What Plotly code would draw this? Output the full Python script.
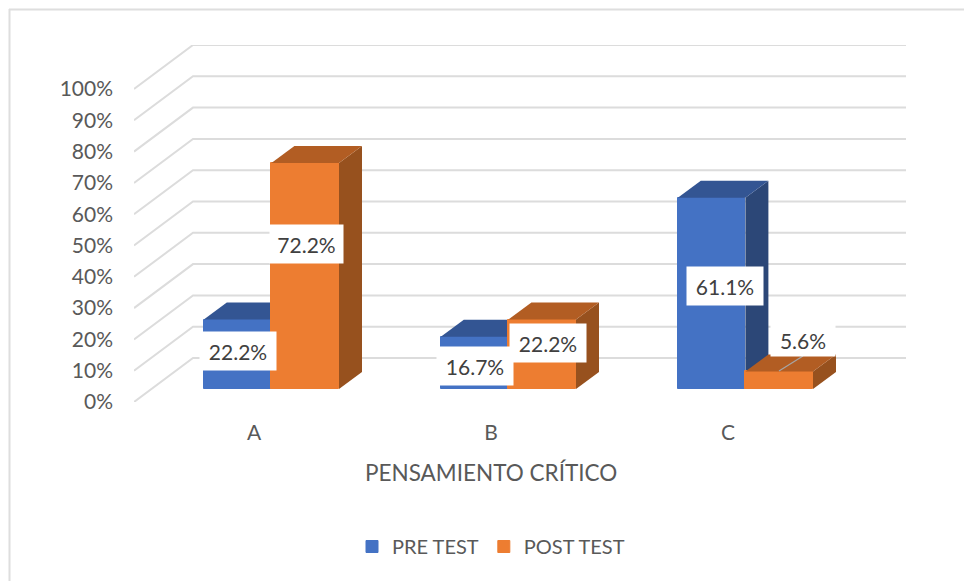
import plotly.graph_objects as go

CATEGORIES = ["A", "B", "C"]
PRE_TEST = [22.2, 16.7, 61.1]
POST_TEST = [72.2, 22.2, 5.6]
TICKS = [0, 10, 20, 30, 40, 50, 60, 70, 80, 90, 100]

COLOR_PRE = ["#4472C4", "#2C4777", "#335593"]  # front, side, top
COLOR_POST = ["#ED7D31", "#97511E", "#B25D23"]
COLOR_GRID = "#DCDCDC"
COLOR_TEXT = "#595959"
FONT = "Lato"

# plot area in pixels, floor corner is (PLOT_L, PLOT_B)
PLOT_L, PLOT_R, PLOT_T, PLOT_B = 134, 906, 45, 402
CAT_PX = 237.0   # pixels per category
FIRST_CAT_PX = 254
PCT_PX = 3.13    # pixels per percent

# 3d depth, in axis units
WALL_DX = 59 / CAT_PX
WALL_DY = 44 / PCT_PX
LIFT_DX = 17.4 / CAT_PX
LIFT_DY = 13 / PCT_PX
BAR_DX = 23 / CAT_PX
BAR_DY = 17 / PCT_PX
BAR_W = 67.6 / CAT_PX


def ax_x(px):
    return (px - FIRST_CAT_PX) / CAT_PX


def ax_y(px):
    return (PLOT_B - px) / PCT_PX


def paper_x(px):
    return (px - PLOT_L) / (PLOT_R - PLOT_L)


def paper_y(px):
    return (PLOT_B - px) / (PLOT_B - PLOT_T)


fig = go.Figure()

# walls
for t in TICKS:
    fig.add_trace(go.Scatter(x=[ax_x(PLOT_L), ax_x(PLOT_L) + WALL_DX, ax_x(PLOT_R)],
                             y=[t, t + WALL_DY, t + WALL_DY],
                             mode="lines", line=dict(color=COLOR_GRID, width=2),
                             showlegend=False, hoverinfo="skip", xaxis="x", yaxis="y"))


def add_series(name, values, offset, colors, xa, ya):
    left = [i + LIFT_DX + offset for i in range(len(values))]
    for i, v in enumerate(values):
        xl = left[i]
        xr = xl + BAR_W
        low = LIFT_DY
        top = LIFT_DY + v
        side_x = [xr, xr + BAR_DX, xr + BAR_DX, xr, xr]
        side_y = [low, low + BAR_DY, top + BAR_DY, top, low]
        top_x = [xl, xl + BAR_DX, xr + BAR_DX, xr, xl]
        top_y = [top, top + BAR_DY, top + BAR_DY, top, top]
        for px, py, c in [(side_x, side_y, colors[1]), (top_x, top_y, colors[2])]:
            fig.add_trace(go.Scatter(x=px, y=py, mode="lines", fill="toself", fillcolor=c,
                                     line=dict(width=0), showlegend=False, hoverinfo="skip",
                                     xaxis=xa, yaxis=ya))
    fig.add_trace(go.Bar(x=[l + BAR_W / 2 for l in left], y=values, base=LIFT_DY, width=BAR_W,
                         name=name, marker=dict(color=colors[0], line=dict(color=colors[0], width=1)),
                         xaxis=xa, yaxis=ya))


add_series("PRE TEST", PRE_TEST, -BAR_W, COLOR_PRE, "x2", "y2")
add_series("POST TEST", POST_TEST, 0, COLOR_POST, "x3", "y3")

# leader line of the small label
fig.add_trace(go.Scatter(x=[ax_x(779), ax_x(803)], y=[ax_y(371), ax_y(356)], mode="lines",
                         line=dict(color="#A6A6A6", width=1.2), showlegend=False,
                         hoverinfo="skip", xaxis="x3", yaxis="y3"))

# data labels, center x, center y, box w, box h in picture pixels
labels = [(PRE_TEST[0], 238, 351, 76, 38), (PRE_TEST[1], 475, 366, 76, 38), (PRE_TEST[2], 725, 286, 76, 38),
          (POST_TEST[0], 306, 244, 73, 38), (POST_TEST[1], 548, 343, 76, 38), (POST_TEST[2], 803, 340, 64, 31)]
annotations = []
for v, cx, cy, w, h in labels:
    annotations.append(dict(x=ax_x(cx), y=ax_y(cy), xref="x3", yref="y3", text=f"{v}%", showarrow=False,
                            width=w, height=h, bgcolor="white", borderpad=0,
                            font=dict(family=FONT, size=21, color="#404040")))
annotations.append(dict(x=paper_x(491), y=paper_y(472), xref="paper", yref="paper", xanchor="center", yanchor="middle",
                        text="PENSAMIENTO CRÍTICO", showarrow=False,
                        font=dict(family=FONT, size=22.5, color=COLOR_TEXT)))

x_range = [ax_x(PLOT_L), ax_x(PLOT_R)]
y_range = [0, ax_y(PLOT_T)]
hidden = dict(visible=False, fixedrange=True)

fig.update_layout(
    width=964, height=581, autosize=False,
    margin=dict(l=PLOT_L, r=964 - PLOT_R, t=PLOT_T, b=581 - PLOT_B, pad=0),
    paper_bgcolor="white", plot_bgcolor="rgba(0,0,0,0)",
    font=dict(family=FONT, size=21, color=COLOR_TEXT),
    barmode="overlay", bargap=0,
    annotations=annotations,
    xaxis=dict(range=x_range, tickmode="array", tickvals=list(range(len(CATEGORIES))), ticktext=CATEGORIES,
               showgrid=False, zeroline=False, showline=False, ticks="", ticklabelstandoff=16),
    yaxis=dict(range=y_range, tickmode="array", tickvals=TICKS, ticktext=[f"{t}%" for t in TICKS],
               showgrid=False, zeroline=False, showline=False, ticks="", ticklabelstandoff=20),
    xaxis2=dict(range=x_range, overlaying="x", **hidden),
    yaxis2=dict(range=y_range, overlaying="y", **hidden),
    xaxis3=dict(range=x_range, overlaying="x", **hidden),
    yaxis3=dict(range=y_range, overlaying="y", **hidden),
    legend=dict(orientation="h", x=paper_x(491), xanchor="center", y=paper_y(546.5), yanchor="middle",
                font=dict(family=FONT, size=20, color=COLOR_TEXT), bgcolor="rgba(0,0,0,0)"),
    shapes=[
        dict(type="line", xref="paper", yref="paper", x0=paper_x(9), x1=paper_x(964), y0=paper_y(9.5), y1=paper_y(9.5),
             line=dict(color="#DEDEDE", width=2)),
        dict(type="line", xref="paper", yref="paper", x0=paper_x(9.5), x1=paper_x(9.5), y0=paper_y(9), y1=paper_y(581),
             line=dict(color="#DEDEDE", width=2)),
    ],
)

fig.write_html("out.html", config=dict(displayModeBar=False), post_script="document.body.style.margin='0';")
